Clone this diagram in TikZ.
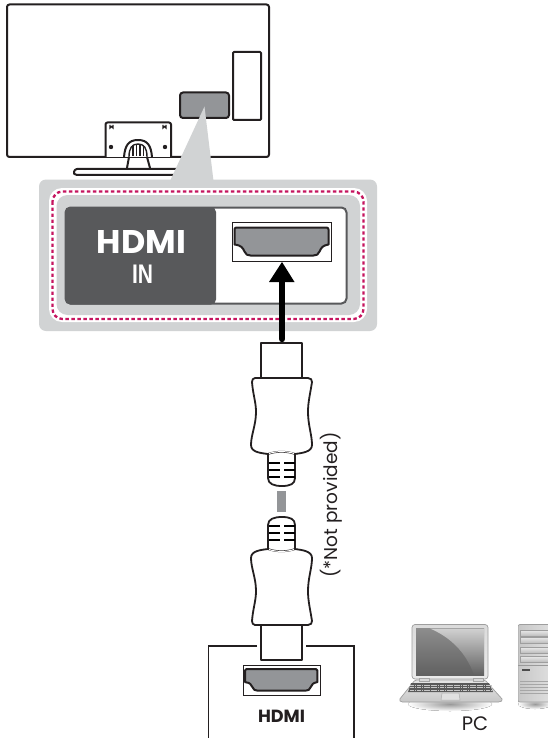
\documentclass[tikz,border=0pt]{standalone}
\usepackage{graphicx}
\usepackage{fontspec}
\setmainfont{Liberation Sans}
\newfontfamily\geo{Poppins}
\usetikzlibrary{shadings,calc}
\definecolor{ink}{HTML}{231F20}
\definecolor{portgrey}{HTML}{939598}
\definecolor{panelgrey}{HTML}{D1D3D4}
\definecolor{darkgrey}{HTML}{58595B}
\definecolor{dotpink}{HTML}{C5145F}
\newcommand{\hdmiport}[3]{%
 \begin{scope}[shift={(#1,#2)},scale=#3]
  \draw[portline,fill=portgrey,line width=2pt] (2,0) -- (92,0) to[out=0,in=90] (94,2) -- (94,17)
    .. controls (88,18) and (87,20) .. (85,24) .. controls (84,27) and (82,28) .. (79,28)
    -- (16,28) .. controls (13,28) and (11,27) .. (10,24) .. controls (8,20) and (7,18) .. (0,17)
    -- (0,2) to[out=90,in=180] (2,0) -- cycle;
 \end{scope}}
\tikzset{
 x=1pt,y=-1pt,
 portline/.style={draw=ink,line join=round},
 outline/.style={draw=ink,line width=2pt,line join=round},
 thinbox/.style={draw=ink,line width=0.8pt,fill=white},
 plugline/.style={draw=ink,line width=1.8pt,line join=round,fill=white},
 rib/.style={draw=black,line width=2.6pt},
 label/.style={inner sep=0pt,text=ink},
 pcedge/.style={draw=black!38,line width=0.7pt,line join=round},
 bay/.style={draw=black!38,line width=0.6pt,top color=black!8,bottom color=black!26},
 pcshadow/.style={inner color=black!40,outer color=white,shading=radial,draw=none},
}
\newcommand{\plug}{%
  \draw[plugline] (261,378) -- (261,343) -- (302,343) -- (302,378);
  \draw[plugline] (268,450) -- (268,478) .. controls (268,484) and (274,486) .. (282,486)
     .. controls (290,486) and (295,484) .. (295,478) -- (295,450);
  \draw[plugline] (255,378) -- (308,378) .. controls (311,378) and (312,380) .. (312,382)
     .. controls (310,395) and (308,402) .. (308,412) .. controls (308,425) and (312,435) .. (312,445)
     .. controls (312,452) and (302,453) .. (295,454) .. controls (287,451) and (276,451) .. (268,454)
     .. controls (260,453) and (251,452) .. (251,445) .. controls (251,435) and (256,425) .. (256,412)
     .. controls (256,402) and (253,395) .. (252,382) .. controls (252,380) and (253,378) .. (255,378) -- cycle;
  \draw[white,line width=1pt] (269,453.5) .. controls (276,451) and (287,451) .. (294,453.5);
  \foreach \yy in {463,470,477}{
    \draw[rib] (269,\yy) -- (280,\yy);
    \draw[rib] (284,\yy) -- (295,\yy);
  }
}
\begin{document}
\begin{tikzpicture}
\useasboundingbox (0,0) rectangle (548,738);
\fill[white] (0,0) rectangle (548,738);
% TV
\draw[outline,rounded corners=2.5pt,fill=white] (7,4.5) rectangle (269,157);
\draw[outline,rounded corners=1pt] (233,52) rectangle (261,120);
\draw[outline,rounded corners=3pt,fill=portgrey] (180,92.5) rectangle (229,118);
% stand
\draw[outline,fill=white,rounded corners=2pt] (105.5,157) -- (105.5,122.5) -- (171,122.5) -- (171,157);
\draw[ink,line width=1.2pt] (110,125) -- (110,128) arc[start angle=180,end angle=360,radius=1.5] -- (113,125);
\draw[ink,line width=1.2pt] (163,125) -- (163,128) arc[start angle=180,end angle=360,radius=1.5] -- (166,125);
\fill[ink] (111,147) circle (2.2);
\fill[ink] (165,147) circle (2.2);
\draw[outline,fill=white] (124,157) .. controls (125,146) and (128,140) .. (138,140) .. controls (148,140) and (151,146) .. (152,157);
\draw[ink,line width=1.4pt,fill=white] (129,157) .. controls (129,148) and (132,144) .. (138,144) .. controls (144,144) and (147,148) .. (147,157);
\foreach \xx in {133,136.5,140,143.5}{\draw[ink,line width=1.5pt] (\xx,145.5) -- (\xx,156);}
\draw[outline] (129,157) -- (127,168);
\draw[outline] (147,157) -- (150,168);
\draw[outline,fill=white] (77,169) -- (180,169) -- (180,175) -- (77,175) .. controls (74,175) and (73.5,173) .. (74,172) .. controls (74.5,170.5) and (75,169) .. (77,169) -- cycle;
% callout
\fill[panelgrey] (204.5,106.5) -- (170,181) -- (213.5,181) -- cycle;
\fill[panelgrey,rounded corners=7pt] (39,179.5) rectangle (377,331);
\fill[white,rounded corners=13pt] (49,188) rectangle (367,322);
\fill[panelgrey,rounded corners=11pt] (56.5,195) rectangle (360,315);
\draw[dotpink,line width=2.3pt,rounded corners=10pt,dash pattern=on 3.4pt off 2.6pt] (52.5,191.5) rectangle (363.5,319);
% HDMI IN plate
\node[draw=darkgrey,line width=2pt,fill=white,rounded corners=5pt,inner sep=0pt,minimum width=281pt,minimum height=96pt] (plate) at (206,255.5) {};
\fill[darkgrey,rounded corners=5pt] (65,207) -- (216,207) -- (216,304.5) -- (65,304.5) -- cycle;
\node[label,text=white] (logo) at (141.5,241.5) {\resizebox{89pt}{23pt}{\geo\bfseries HDMI}};
\node[label,text=white] (inlabel) at (142.5,274.5) {\resizebox{21pt}{18.5pt}{\bfseries IN}};
\node[thinbox,minimum width=99pt,minimum height=39pt,inner sep=0pt] (portbox) at (281.5,241.5) {};
\hdmiport{234.5}{227.5}{1}
% arrow
\coordinate (cabletop) at (282,339);
\fill[black] (282,262) -- (294.5,282) -- (269,282) -- cycle;
\draw[black,line width=6.5pt,line cap=round] (cabletop) -- (282,280);
% plugs
\plug
\begin{scope}[shift={(0,1003)},yscale=-1]
\plug
\end{scope}
\fill[portgrey] (277,491) rectangle (286,512);
% HDMI source box
\draw[ink,line width=1.3pt] (257,646) -- (208.5,646) -- (208.5,738);
\draw[ink,line width=1.3pt] (306,646) -- (354,646) -- (354,738);
\node[thinbox,minimum width=77pt,minimum height=30pt,inner sep=0pt] (srcbox) at (281.5,680) {};
\hdmiport{245}{669}{0.77}
\node[label] (hdmi) at (281.5,716) {\resizebox{47pt}{!}{\geo\fontseries{sb}\selectfont HDMI}};
\node[label,rotate=90] (np) at (331,505) {\geo\fontsize{18.5}{20}\selectfont (*Not provided)};
% laptop shadow
\fill[pcshadow] (450,704) ellipse (42 and 7);
\fill[pcshadow] (535,704) ellipse (17 and 5);
% laptop lid
\draw[pcedge,rounded corners=3pt,top color=black!14,bottom color=black!8] (412,624.5) rectangle (488,679);
\begin{scope}
 \clip (416,628.5) rectangle (484,675);
 \shade[top color=black!45,bottom color=black!62] (416,628.5) rectangle (484,675);
 \shade[top color=black!18,bottom color=black!62] (430,628.5) .. controls (450,637) and (466,652) .. (474,675) -- (484,675) -- (484,628.5) -- cycle;
\end{scope}
% laptop base
\draw[pcedge,top color=black!10,bottom color=black!22,rounded corners=1.5pt] (415,680) -- (485,680) -- (503,700) -- (500,702) -- (401,702) -- (399,700) -- cycle;
\fill[black!15,draw=black!35,line width=.4pt] (419,678) rectangle (429,681);
\fill[black!15,draw=black!35,line width=.4pt] (473,678) rectangle (483,681);
\fill[black!65] (411,683) -- (489,683) -- (493,692) -- (408,692) -- cycle;
\foreach \yy in {685,687.5,690}{\draw[black!22,line width=.4pt,dash pattern=on 1.8pt off .5pt] (410,\yy) -- (491,\yy);}
\draw[black!32,line width=.5pt,fill=black!12] (442,693) -- (459,693) -- (460,700) -- (441,700) -- cycle;
% tower
\begin{scope}
 \clip (518,624) rectangle (548,703);
 \draw[pcedge,left color=black!22,right color=black!10,rounded corners=2pt] (518,624.5) rectangle (560,702);
 \foreach \yy in {630,637,647,656}{\draw[bay] (520,\yy) rectangle (552,\yy+6);}
 \draw[black!40,line width=.6pt] (518,665) -- (548,665);
 \fill[black!70] (522,669) rectangle (530,671);
 \foreach \yy in {681,684,687,690,693}{\draw[black!35,line width=.5pt] (520,\yy) -- (548,\yy);}
\end{scope}
\node[label] (pc) at (475,724) {\geo\fontsize{19.5}{20}\selectfont PC};
\end{tikzpicture}
\end{document}
